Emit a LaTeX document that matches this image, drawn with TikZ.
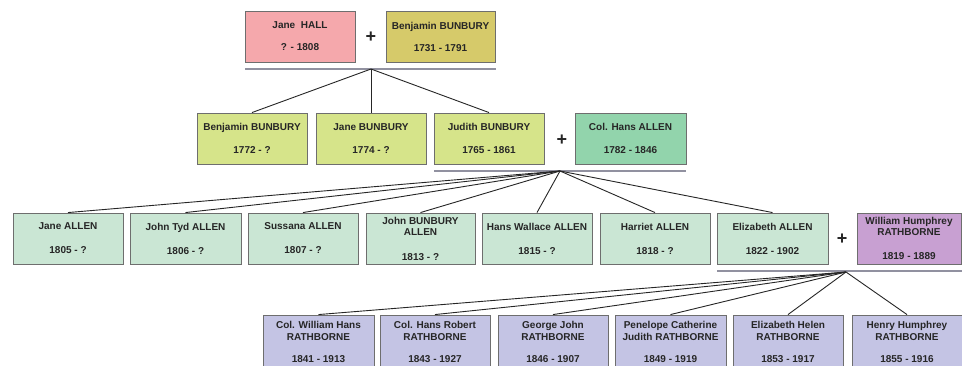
\documentclass[tikz,border=0pt]{standalone}
\usepackage{fontspec}
\setmainfont{Liberation Sans}
\definecolor{cpink}{RGB}{245,168,172}
\definecolor{colive}{RGB}{214,202,106}
\definecolor{cyg}{RGB}{214,228,138}
\definecolor{cgreen}{RGB}{146,212,172}
\definecolor{clgreen}{RGB}{202,230,212}
\definecolor{cpurple}{RGB}{200,160,210}
\definecolor{clav}{RGB}{196,196,228}
\definecolor{cborder}{RGB}{110,110,110}
\definecolor{cbar}{RGB}{145,145,160}
\begin{document}
\begin{tikzpicture}[x=1pt,y=-1pt,
  box/.style={draw=cborder, line width=0.9pt, align=center, inner sep=0pt,
    font=\fontsize{10}{11}\selectfont\bfseries, text=black!85},
  r1/.style={box, minimum height=51pt},
  r2/.style={box, minimum height=51pt},
  r3/.style={box, minimum height=51pt},
  r4/.style={box, minimum height=53pt, fill=clav},
  bar/.style={draw=cbar, line width=2.2pt},
  conn/.style={draw=black!85, line width=0.9pt},
  plus/.style={font=\fontsize{18}{18}\selectfont\bfseries, text=black!85, inner sep=0pt}]
\clip (0,0) rectangle (962,365);
\fill[white] (0,0) rectangle (962,365);

% Row 1
\node[r1, fill=cpink, minimum width=110pt] (jh) at (300,36.5) {Jane\ \ HALL\\[11pt]? - 1808};
\node[r1, fill=colive, minimum width=109pt] (bb1) at (440.5,36.5) {Benjamin BUNBURY\\[11pt]1731 - 1791};
\node[plus] (p1) at (371,37) {+};
\draw[bar] (245,69) -- (496,69);
\coordinate (a1) at (371,69);

% Row 2
\node[r2, fill=cyg, minimum width=110pt] (bb2) at (252,138.5) {Benjamin BUNBURY\\[12pt]1772 - ?};
\node[r2, fill=cyg, minimum width=110pt] (jb) at (371,138.5) {Jane BUNBURY\\[12pt]1774 - ?};
\node[r2, fill=cyg, minimum width=110pt] (jub) at (489,138.5) {Judith BUNBURY\\[12pt]1765 - 1861};
\node[r2, fill=cgreen, minimum width=111pt] (cha) at (630.5,138.5) {Col. Hans ALLEN\\[12pt]1782 - 1846};
\node[plus] (p2) at (562,140) {+};
\draw[bar] (434,171) -- (686,171);
\coordinate (a2) at (560,171);

\draw[conn] (a1) -- (bb2.north);
\draw[conn] (a1) -- (jb.north);
\draw[conn] (a1) -- (jub.north);

% Row 3
\node[r3, fill=clgreen, minimum width=110pt] (ja) at (68,238.5) {Jane ALLEN\\[13pt]1805 - ?};
\node[r3, fill=clgreen, minimum width=111pt] (jt) at (185.5,238.5) {John Tyd ALLEN\\[13pt]1806 - ?};
\node[r3, fill=clgreen, minimum width=110pt] (sa) at (303,238.5) {Sussana ALLEN\\[13pt]1807 - ?};
\node[r3, fill=clgreen, minimum width=109pt] (jba) at (420.5,238.5) {John BUNBURY\\ALLEN\\[14pt]1813 - ?};
\node[r3, fill=clgreen, minimum width=110pt] (hwa) at (537,238.5) {Hans Wallace ALLEN\\[13pt]1815 - ?};
\node[r3, fill=clgreen, minimum width=110pt] (ha) at (655,238.5) {Harriet ALLEN\\[13pt]1818 - ?};
\node[r3, fill=clgreen, minimum width=111pt] (ea) at (772.5,238.5) {Elizabeth ALLEN\\[13pt]1822 - 1902};
\node[r3, fill=cpurple, minimum width=104pt] (whr) at (909,238.5) {William Humphrey\\RATHBORNE\\[13pt]1819 - 1889};
\node[plus] (p3) at (842,239) {+};
\draw[bar] (717,271) -- (962,271);
\coordinate (a3) at (846,272);

\foreach \n in {ja,jt,sa,jba,hwa,ha,ea}
  \draw[conn] (a2) -- (\n.north);

% Row 4
\node[r4, minimum width=111pt] (cwh) at (318.5,341.5) {Col. William Hans\\[1pt]RATHBORNE\\[11pt]1841 - 1913};
\node[r4, minimum width=110pt] (chr) at (435,341.5) {Col. Hans Robert\\[1pt]RATHBORNE\\[11pt]1843 - 1927};
\node[r4, minimum width=110pt] (gj) at (553,341.5) {George John\\[1pt]RATHBORNE\\[11pt]1846 - 1907};
\node[r4, minimum width=111pt] (pcj) at (670.5,341.5) {Penelope Catherine\\[1pt]Judith RATHBORNE\\[11pt]1849 - 1919};
\node[r4, minimum width=110pt] (eh) at (788,341.5) {Elizabeth Helen\\[1pt]RATHBORNE\\[11pt]1853 - 1917};
\node[r4, minimum width=110pt] (hh) at (907,341.5) {Henry Humphrey\\[1pt]RATHBORNE\\[11pt]1855 - 1916};

\foreach \n in {cwh,chr,gj,pcj,eh,hh}
  \draw[conn] (a3) -- (\n.north);
\end{tikzpicture}
\end{document}
